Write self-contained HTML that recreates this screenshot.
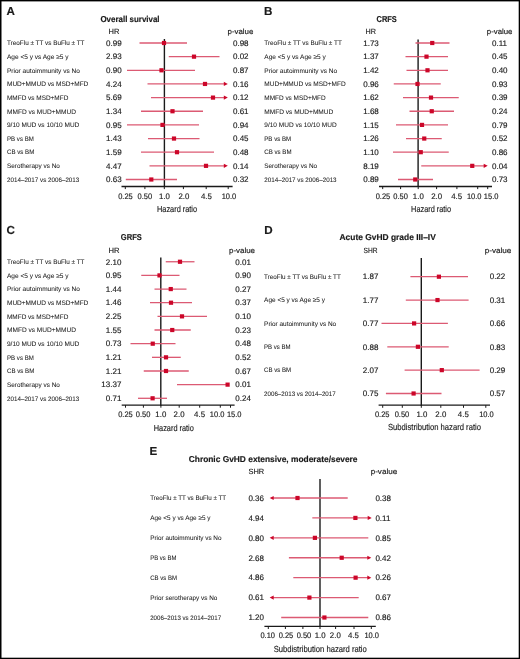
<!DOCTYPE html>
<html><head><meta charset="utf-8"><style>
html,body{margin:0;padding:0;background:#fff;}
body{width:520px;height:659px;overflow:hidden;}
svg{display:block;font-family:"Liberation Sans", sans-serif;text-rendering:geometricPrecision;}
text{filter:grayscale(1);}
text.r{stroke:#1a1a1a;stroke-width:0.15px;}
text.l{stroke:#1a1a1a;stroke-width:0.05px;}
text.b{stroke:#111;stroke-width:0.16px;}
</style></head><body>
<svg width="520" height="659" viewBox="0 0 520 659">
<rect x="0" y="0" width="520" height="659" fill="#fff"/>
<rect x="0" y="0" width="1.5" height="659" fill="#000"/><rect x="0" y="0" width="520" height="1.4" fill="#000"/><rect x="518.7" y="0" width="1.3" height="659" fill="#000"/><rect x="0" y="657.7" width="520" height="1.3" fill="#000"/>
<text class="b" x="6.60" y="15.10" font-size="11.6" font-weight="bold" fill="#1a1a1a">A</text>
<text class="b" x="100.40" y="21.80" font-size="8.5" font-weight="bold" textLength="59.20" lengthAdjust="spacingAndGlyphs" fill="#1a1a1a">Overall survival</text>
<text class="r" x="108.60" y="33.80" font-size="7.6" textLength="10.80" lengthAdjust="spacingAndGlyphs" fill="#1a1a1a">HR</text>
<text class="r" x="227.50" y="33.80" font-size="7.6" textLength="25.90" lengthAdjust="spacingAndGlyphs" fill="#1a1a1a">p-value</text>
<line x1="164.40" y1="39.00" x2="164.40" y2="187.10" stroke="#1a1a1a" stroke-width="1.4"/>
<line x1="121.50" y1="186.50" x2="232.60" y2="186.50" stroke="#1a1a1a" stroke-width="1.3"/>
<line x1="125.30" y1="186.50" x2="125.30" y2="189.10" stroke="#1a1a1a" stroke-width="1.0"/>
<line x1="144.90" y1="186.50" x2="144.90" y2="189.10" stroke="#1a1a1a" stroke-width="1.0"/>
<line x1="164.30" y1="186.50" x2="164.30" y2="189.10" stroke="#1a1a1a" stroke-width="1.0"/>
<line x1="183.40" y1="186.50" x2="183.40" y2="189.10" stroke="#1a1a1a" stroke-width="1.0"/>
<line x1="206.20" y1="186.50" x2="206.20" y2="189.10" stroke="#1a1a1a" stroke-width="1.0"/>
<line x1="228.20" y1="186.50" x2="228.20" y2="189.10" stroke="#1a1a1a" stroke-width="1.0"/>
<text class="r" x="125.50" y="198.60" font-size="8.0" text-anchor="middle" textLength="14.60" lengthAdjust="spacingAndGlyphs" fill="#1a1a1a">0.25</text>
<text class="r" x="144.90" y="198.60" font-size="8.0" text-anchor="middle" textLength="14.60" lengthAdjust="spacingAndGlyphs" fill="#1a1a1a">0.50</text>
<text class="r" x="164.50" y="198.60" font-size="8.0" text-anchor="middle" textLength="10.90" lengthAdjust="spacingAndGlyphs" fill="#1a1a1a">1.0</text>
<text class="r" x="183.85" y="198.60" font-size="8.0" text-anchor="middle" textLength="10.90" lengthAdjust="spacingAndGlyphs" fill="#1a1a1a">2.0</text>
<text class="r" x="206.35" y="198.60" font-size="8.0" text-anchor="middle" textLength="10.90" lengthAdjust="spacingAndGlyphs" fill="#1a1a1a">4.5</text>
<text class="r" x="229.00" y="198.60" font-size="8.0" text-anchor="middle" textLength="14.60" lengthAdjust="spacingAndGlyphs" fill="#1a1a1a">10.0</text>
<text class="r" x="157.00" y="211.60" font-size="8.8" textLength="40.10" lengthAdjust="spacingAndGlyphs" fill="#1a1a1a">Hazard ratio</text>
<text class="l" x="7.00" y="45.25" font-size="6.5" textLength="77.50" lengthAdjust="spacingAndGlyphs" fill="#1a1a1a">TreoFlu ± TT vs BuFlu ± TT</text>
<text class="r" x="121.60" y="45.75" font-size="8.0" text-anchor="end" fill="#1a1a1a">0.99</text>
<text class="r" x="233.00" y="45.75" font-size="8.0" fill="#1a1a1a">0.98</text>
<line x1="139.50" y1="43.00" x2="187.00" y2="43.00" stroke="#dc5a73" stroke-width="1.3"/>
<rect x="161.90" y="40.90" width="4.20" height="4.20" fill="#cc0629"/>
<text class="l" x="7.00" y="58.90" font-size="6.5" textLength="61.50" lengthAdjust="spacingAndGlyphs" fill="#1a1a1a">Age &lt;5 y vs Age ≥5 y</text>
<text class="r" x="121.60" y="59.40" font-size="8.0" text-anchor="end" fill="#1a1a1a">2.93</text>
<text class="r" x="233.00" y="59.40" font-size="8.0" fill="#1a1a1a">0.02</text>
<line x1="168.75" y1="56.65" x2="219.50" y2="56.65" stroke="#dc5a73" stroke-width="1.3"/>
<rect x="191.90" y="54.55" width="4.20" height="4.20" fill="#cc0629"/>
<text class="l" x="7.00" y="72.55" font-size="6.5" textLength="72.80" lengthAdjust="spacingAndGlyphs" fill="#1a1a1a">Prior autoimmunity vs No</text>
<text class="r" x="121.60" y="73.05" font-size="8.0" text-anchor="end" fill="#1a1a1a">0.90</text>
<text class="r" x="233.00" y="73.05" font-size="8.0" fill="#1a1a1a">0.87</text>
<line x1="127.00" y1="70.30" x2="195.00" y2="70.30" stroke="#dc5a73" stroke-width="1.3"/>
<rect x="159.40" y="68.20" width="4.20" height="4.20" fill="#cc0629"/>
<text class="l" x="7.00" y="86.20" font-size="6.5" textLength="81.30" lengthAdjust="spacingAndGlyphs" fill="#1a1a1a">MUD+MMUD vs MSD+MFD</text>
<text class="r" x="121.60" y="86.70" font-size="8.0" text-anchor="end" fill="#1a1a1a">4.24</text>
<text class="r" x="233.00" y="86.70" font-size="8.0" fill="#1a1a1a">0.16</text>
<line x1="147.50" y1="83.95" x2="225.80" y2="83.95" stroke="#dc5a73" stroke-width="1.3"/>
<polygon points="223.80,81.85 227.80,83.95 223.80,86.05" fill="#cc0629"/>
<rect x="202.90" y="81.85" width="4.20" height="4.20" fill="#cc0629"/>
<text class="l" x="7.00" y="99.85" font-size="6.5" textLength="61.30" lengthAdjust="spacingAndGlyphs" fill="#1a1a1a">MMFD vs MSD+MFD</text>
<text class="r" x="121.60" y="100.35" font-size="8.0" text-anchor="end" fill="#1a1a1a">5.69</text>
<text class="r" x="233.00" y="100.35" font-size="8.0" fill="#1a1a1a">0.12</text>
<line x1="151.00" y1="97.60" x2="225.80" y2="97.60" stroke="#dc5a73" stroke-width="1.3"/>
<polygon points="223.80,95.50 227.80,97.60 223.80,99.70" fill="#cc0629"/>
<rect x="210.90" y="95.50" width="4.20" height="4.20" fill="#cc0629"/>
<text class="l" x="7.00" y="113.50" font-size="6.5" textLength="69.00" lengthAdjust="spacingAndGlyphs" fill="#1a1a1a">MMFD vs MUD+MMUD</text>
<text class="r" x="121.60" y="114.00" font-size="8.0" text-anchor="end" fill="#1a1a1a">1.34</text>
<text class="r" x="233.00" y="114.00" font-size="8.0" fill="#1a1a1a">0.61</text>
<line x1="141.00" y1="111.25" x2="203.00" y2="111.25" stroke="#dc5a73" stroke-width="1.3"/>
<rect x="170.40" y="109.15" width="4.20" height="4.20" fill="#cc0629"/>
<text class="l" x="7.00" y="127.15" font-size="6.5" textLength="72.30" lengthAdjust="spacingAndGlyphs" fill="#1a1a1a">9/10 MUD vs 10/10 MUD</text>
<text class="r" x="121.60" y="127.65" font-size="8.0" text-anchor="end" fill="#1a1a1a">0.95</text>
<text class="r" x="233.00" y="127.65" font-size="8.0" fill="#1a1a1a">0.94</text>
<line x1="127.00" y1="124.90" x2="199.00" y2="124.90" stroke="#dc5a73" stroke-width="1.3"/>
<rect x="160.40" y="122.80" width="4.20" height="4.20" fill="#cc0629"/>
<text class="l" x="7.00" y="140.80" font-size="6.5" textLength="26.80" lengthAdjust="spacingAndGlyphs" fill="#1a1a1a">PB vs BM</text>
<text class="r" x="121.60" y="141.30" font-size="8.0" text-anchor="end" fill="#1a1a1a">1.43</text>
<text class="r" x="233.00" y="141.30" font-size="8.0" fill="#1a1a1a">0.45</text>
<line x1="148.00" y1="138.55" x2="199.50" y2="138.55" stroke="#dc5a73" stroke-width="1.3"/>
<rect x="171.90" y="136.45" width="4.20" height="4.20" fill="#cc0629"/>
<text class="l" x="7.00" y="154.45" font-size="6.5" textLength="27.30" lengthAdjust="spacingAndGlyphs" fill="#1a1a1a">CB vs BM</text>
<text class="r" x="121.60" y="154.95" font-size="8.0" text-anchor="end" fill="#1a1a1a">1.59</text>
<text class="r" x="233.00" y="154.95" font-size="8.0" fill="#1a1a1a">0.48</text>
<line x1="141.00" y1="152.20" x2="214.00" y2="152.20" stroke="#dc5a73" stroke-width="1.3"/>
<rect x="174.90" y="150.10" width="4.20" height="4.20" fill="#cc0629"/>
<text class="l" x="7.00" y="168.10" font-size="6.5" textLength="52.80" lengthAdjust="spacingAndGlyphs" fill="#1a1a1a">Serotherapy vs No</text>
<text class="r" x="121.60" y="168.60" font-size="8.0" text-anchor="end" fill="#1a1a1a">4.47</text>
<text class="r" x="233.00" y="168.60" font-size="8.0" fill="#1a1a1a">0.14</text>
<line x1="149.50" y1="165.85" x2="225.80" y2="165.85" stroke="#dc5a73" stroke-width="1.3"/>
<polygon points="223.80,163.75 227.80,165.85 223.80,167.95" fill="#cc0629"/>
<rect x="203.90" y="163.75" width="4.20" height="4.20" fill="#cc0629"/>
<text class="l" x="7.00" y="181.75" font-size="6.5" textLength="72.30" lengthAdjust="spacingAndGlyphs" fill="#1a1a1a">2014–2017 vs 2006–2013</text>
<text class="r" x="121.60" y="182.25" font-size="8.0" text-anchor="end" fill="#1a1a1a">0.63</text>
<text class="r" x="233.00" y="182.25" font-size="8.0" fill="#1a1a1a">0.32</text>
<line x1="125.80" y1="179.50" x2="177.00" y2="179.50" stroke="#dc5a73" stroke-width="1.3"/>
<rect x="149.20" y="177.40" width="4.20" height="4.20" fill="#cc0629"/>
<text class="b" x="264.00" y="15.10" font-size="11.6" font-weight="bold" fill="#1a1a1a">B</text>
<text class="b" x="376.50" y="21.60" font-size="8.5" font-weight="bold" textLength="20.30" lengthAdjust="spacingAndGlyphs" fill="#1a1a1a">CRFS</text>
<text class="r" x="365.60" y="33.80" font-size="7.6" textLength="10.40" lengthAdjust="spacingAndGlyphs" fill="#1a1a1a">HR</text>
<text class="r" x="486.80" y="33.80" font-size="7.6" textLength="25.60" lengthAdjust="spacingAndGlyphs" fill="#1a1a1a">p-value</text>
<line x1="418.10" y1="39.50" x2="418.10" y2="187.10" stroke="#1a1a1a" stroke-width="1.4"/>
<line x1="379.00" y1="186.50" x2="492.00" y2="186.50" stroke="#1a1a1a" stroke-width="1.3"/>
<line x1="382.70" y1="186.50" x2="382.70" y2="189.10" stroke="#1a1a1a" stroke-width="1.0"/>
<line x1="400.60" y1="186.50" x2="400.60" y2="189.10" stroke="#1a1a1a" stroke-width="1.0"/>
<line x1="418.20" y1="186.50" x2="418.20" y2="189.10" stroke="#1a1a1a" stroke-width="1.0"/>
<line x1="436.60" y1="186.50" x2="436.60" y2="189.10" stroke="#1a1a1a" stroke-width="1.0"/>
<line x1="456.90" y1="186.50" x2="456.90" y2="189.10" stroke="#1a1a1a" stroke-width="1.0"/>
<line x1="477.70" y1="186.50" x2="477.70" y2="189.10" stroke="#1a1a1a" stroke-width="1.0"/>
<line x1="487.70" y1="186.50" x2="487.70" y2="189.10" stroke="#1a1a1a" stroke-width="1.0"/>
<text class="r" x="383.00" y="198.50" font-size="8.0" text-anchor="middle" textLength="14.60" lengthAdjust="spacingAndGlyphs" fill="#1a1a1a">0.25</text>
<text class="r" x="400.60" y="198.50" font-size="8.0" text-anchor="middle" textLength="14.60" lengthAdjust="spacingAndGlyphs" fill="#1a1a1a">0.50</text>
<text class="r" x="418.30" y="198.50" font-size="8.0" text-anchor="middle" textLength="10.90" lengthAdjust="spacingAndGlyphs" fill="#1a1a1a">1.0</text>
<text class="r" x="436.65" y="198.50" font-size="8.0" text-anchor="middle" textLength="10.90" lengthAdjust="spacingAndGlyphs" fill="#1a1a1a">2.0</text>
<text class="r" x="456.65" y="198.50" font-size="8.0" text-anchor="middle" textLength="10.90" lengthAdjust="spacingAndGlyphs" fill="#1a1a1a">4.5</text>
<text class="r" x="474.20" y="198.50" font-size="8.0" text-anchor="middle" textLength="14.60" lengthAdjust="spacingAndGlyphs" fill="#1a1a1a">10.0</text>
<text class="r" x="491.15" y="198.50" font-size="8.0" text-anchor="middle" textLength="14.60" lengthAdjust="spacingAndGlyphs" fill="#1a1a1a">15.0</text>
<text class="r" x="411.10" y="211.60" font-size="8.8" textLength="40.00" lengthAdjust="spacingAndGlyphs" fill="#1a1a1a">Hazard ratio</text>
<text class="l" x="264.30" y="45.25" font-size="6.5" textLength="77.50" lengthAdjust="spacingAndGlyphs" fill="#1a1a1a">TreoFlu ± TT vs BuFlu ± TT</text>
<text class="r" x="378.80" y="45.75" font-size="8.0" text-anchor="end" fill="#1a1a1a">1.73</text>
<text class="r" x="492.00" y="45.75" font-size="8.0" fill="#1a1a1a">0.11</text>
<line x1="415.50" y1="43.00" x2="449.50" y2="43.00" stroke="#dc5a73" stroke-width="1.3"/>
<rect x="430.15" y="40.90" width="4.20" height="4.20" fill="#cc0629"/>
<text class="l" x="264.30" y="58.90" font-size="6.5" textLength="61.50" lengthAdjust="spacingAndGlyphs" fill="#1a1a1a">Age &lt;5 y vs Age ≥5 y</text>
<text class="r" x="378.80" y="59.40" font-size="8.0" text-anchor="end" fill="#1a1a1a">1.37</text>
<text class="r" x="492.00" y="59.40" font-size="8.0" fill="#1a1a1a">0.45</text>
<line x1="405.50" y1="56.65" x2="448.00" y2="56.65" stroke="#dc5a73" stroke-width="1.3"/>
<rect x="424.40" y="54.55" width="4.20" height="4.20" fill="#cc0629"/>
<text class="l" x="264.30" y="72.55" font-size="6.5" textLength="72.80" lengthAdjust="spacingAndGlyphs" fill="#1a1a1a">Prior autoimmunity vs No</text>
<text class="r" x="378.80" y="73.05" font-size="8.0" text-anchor="end" fill="#1a1a1a">1.42</text>
<text class="r" x="492.00" y="73.05" font-size="8.0" fill="#1a1a1a">0.40</text>
<line x1="406.50" y1="70.30" x2="448.00" y2="70.30" stroke="#dc5a73" stroke-width="1.3"/>
<rect x="425.40" y="68.20" width="4.20" height="4.20" fill="#cc0629"/>
<text class="l" x="264.30" y="86.20" font-size="6.5" textLength="81.30" lengthAdjust="spacingAndGlyphs" fill="#1a1a1a">MUD+MMUD vs MSD+MFD</text>
<text class="r" x="378.80" y="86.70" font-size="8.0" text-anchor="end" fill="#1a1a1a">0.96</text>
<text class="r" x="492.00" y="86.70" font-size="8.0" fill="#1a1a1a">0.93</text>
<line x1="393.75" y1="83.95" x2="440.75" y2="83.95" stroke="#dc5a73" stroke-width="1.3"/>
<rect x="415.40" y="81.85" width="4.20" height="4.20" fill="#cc0629"/>
<text class="l" x="264.30" y="99.85" font-size="6.5" textLength="61.30" lengthAdjust="spacingAndGlyphs" fill="#1a1a1a">MMFD vs MSD+MFD</text>
<text class="r" x="378.80" y="100.35" font-size="8.0" text-anchor="end" fill="#1a1a1a">1.62</text>
<text class="r" x="492.00" y="100.35" font-size="8.0" fill="#1a1a1a">0.39</text>
<line x1="403.00" y1="97.60" x2="458.75" y2="97.60" stroke="#dc5a73" stroke-width="1.3"/>
<rect x="428.90" y="95.50" width="4.20" height="4.20" fill="#cc0629"/>
<text class="l" x="264.30" y="113.50" font-size="6.5" textLength="69.00" lengthAdjust="spacingAndGlyphs" fill="#1a1a1a">MMFD vs MUD+MMUD</text>
<text class="r" x="378.80" y="114.00" font-size="8.0" text-anchor="end" fill="#1a1a1a">1.68</text>
<text class="r" x="492.00" y="114.00" font-size="8.0" fill="#1a1a1a">0.24</text>
<line x1="409.50" y1="111.25" x2="454.00" y2="111.25" stroke="#dc5a73" stroke-width="1.3"/>
<rect x="429.65" y="109.15" width="4.20" height="4.20" fill="#cc0629"/>
<text class="l" x="264.30" y="127.15" font-size="6.5" textLength="72.30" lengthAdjust="spacingAndGlyphs" fill="#1a1a1a">9/10 MUD vs 10/10 MUD</text>
<text class="r" x="378.80" y="127.65" font-size="8.0" text-anchor="end" fill="#1a1a1a">1.15</text>
<text class="r" x="492.00" y="127.65" font-size="8.0" fill="#1a1a1a">0.79</text>
<line x1="396.00" y1="124.90" x2="448.00" y2="124.90" stroke="#dc5a73" stroke-width="1.3"/>
<rect x="419.90" y="122.80" width="4.20" height="4.20" fill="#cc0629"/>
<text class="l" x="264.30" y="140.80" font-size="6.5" textLength="26.80" lengthAdjust="spacingAndGlyphs" fill="#1a1a1a">PB vs BM</text>
<text class="r" x="378.80" y="141.30" font-size="8.0" text-anchor="end" fill="#1a1a1a">1.26</text>
<text class="r" x="492.00" y="141.30" font-size="8.0" fill="#1a1a1a">0.52</text>
<line x1="406.00" y1="138.55" x2="441.75" y2="138.55" stroke="#dc5a73" stroke-width="1.3"/>
<rect x="422.15" y="136.45" width="4.20" height="4.20" fill="#cc0629"/>
<text class="l" x="264.30" y="154.45" font-size="6.5" textLength="27.30" lengthAdjust="spacingAndGlyphs" fill="#1a1a1a">CB vs BM</text>
<text class="r" x="378.80" y="154.95" font-size="8.0" text-anchor="end" fill="#1a1a1a">1.10</text>
<text class="r" x="492.00" y="154.95" font-size="8.0" fill="#1a1a1a">0.86</text>
<line x1="393.00" y1="152.20" x2="448.75" y2="152.20" stroke="#dc5a73" stroke-width="1.3"/>
<rect x="418.65" y="150.10" width="4.20" height="4.20" fill="#cc0629"/>
<text class="l" x="264.30" y="168.10" font-size="6.5" textLength="52.80" lengthAdjust="spacingAndGlyphs" fill="#1a1a1a">Serotherapy vs No</text>
<text class="r" x="378.80" y="168.60" font-size="8.0" text-anchor="end" fill="#1a1a1a">8.19</text>
<text class="r" x="492.00" y="168.60" font-size="8.0" fill="#1a1a1a">0.04</text>
<line x1="421.25" y1="165.85" x2="485.70" y2="165.85" stroke="#dc5a73" stroke-width="1.3"/>
<polygon points="483.70,163.75 487.70,165.85 483.70,167.95" fill="#cc0629"/>
<rect x="470.15" y="163.75" width="4.20" height="4.20" fill="#cc0629"/>
<text class="l" x="264.30" y="181.75" font-size="6.5" textLength="72.30" lengthAdjust="spacingAndGlyphs" fill="#1a1a1a">2014–2017 vs 2006–2013</text>
<text class="r" x="378.80" y="182.25" font-size="8.0" text-anchor="end" fill="#1a1a1a">0.89</text>
<text class="r" x="492.00" y="182.25" font-size="8.0" fill="#1a1a1a">0.73</text>
<line x1="398.00" y1="179.50" x2="433.00" y2="179.50" stroke="#dc5a73" stroke-width="1.3"/>
<rect x="413.15" y="177.40" width="4.20" height="4.20" fill="#cc0629"/>
<text class="b" x="6.60" y="233.90" font-size="11.6" font-weight="bold" fill="#1a1a1a">C</text>
<text class="b" x="120.80" y="240.40" font-size="8.5" font-weight="bold" textLength="21.00" lengthAdjust="spacingAndGlyphs" fill="#1a1a1a">GRFS</text>
<text class="r" x="108.40" y="252.80" font-size="7.6" textLength="11.00" lengthAdjust="spacingAndGlyphs" fill="#1a1a1a">HR</text>
<text class="r" x="229.00" y="252.80" font-size="7.6" textLength="26.00" lengthAdjust="spacingAndGlyphs" fill="#1a1a1a">p-value</text>
<line x1="160.80" y1="257.60" x2="160.80" y2="405.70" stroke="#1a1a1a" stroke-width="1.4"/>
<line x1="121.70" y1="405.10" x2="234.60" y2="405.10" stroke="#1a1a1a" stroke-width="1.3"/>
<line x1="125.50" y1="405.10" x2="125.50" y2="407.70" stroke="#1a1a1a" stroke-width="1.0"/>
<line x1="143.40" y1="405.10" x2="143.40" y2="407.70" stroke="#1a1a1a" stroke-width="1.0"/>
<line x1="160.90" y1="405.10" x2="160.90" y2="407.70" stroke="#1a1a1a" stroke-width="1.0"/>
<line x1="179.20" y1="405.10" x2="179.20" y2="407.70" stroke="#1a1a1a" stroke-width="1.0"/>
<line x1="199.70" y1="405.10" x2="199.70" y2="407.70" stroke="#1a1a1a" stroke-width="1.0"/>
<line x1="220.30" y1="405.10" x2="220.30" y2="407.70" stroke="#1a1a1a" stroke-width="1.0"/>
<line x1="230.50" y1="405.10" x2="230.50" y2="407.70" stroke="#1a1a1a" stroke-width="1.0"/>
<text class="r" x="125.50" y="417.10" font-size="8.0" text-anchor="middle" textLength="14.60" lengthAdjust="spacingAndGlyphs" fill="#1a1a1a">0.25</text>
<text class="r" x="143.10" y="417.10" font-size="8.0" text-anchor="middle" textLength="14.60" lengthAdjust="spacingAndGlyphs" fill="#1a1a1a">0.50</text>
<text class="r" x="160.80" y="417.10" font-size="8.0" text-anchor="middle" textLength="10.90" lengthAdjust="spacingAndGlyphs" fill="#1a1a1a">1.0</text>
<text class="r" x="179.05" y="417.10" font-size="8.0" text-anchor="middle" textLength="10.90" lengthAdjust="spacingAndGlyphs" fill="#1a1a1a">2.0</text>
<text class="r" x="199.55" y="417.10" font-size="8.0" text-anchor="middle" textLength="10.90" lengthAdjust="spacingAndGlyphs" fill="#1a1a1a">4.5</text>
<text class="r" x="217.15" y="417.10" font-size="8.0" text-anchor="middle" textLength="14.60" lengthAdjust="spacingAndGlyphs" fill="#1a1a1a">10.0</text>
<text class="r" x="234.20" y="417.10" font-size="8.0" text-anchor="middle" textLength="14.60" lengthAdjust="spacingAndGlyphs" fill="#1a1a1a">15.0</text>
<text class="r" x="153.80" y="430.60" font-size="8.8" textLength="40.00" lengthAdjust="spacingAndGlyphs" fill="#1a1a1a">Hazard ratio</text>
<text class="l" x="7.00" y="264.00" font-size="6.5" textLength="77.50" lengthAdjust="spacingAndGlyphs" fill="#1a1a1a">TreoFlu ± TT vs BuFlu ± TT</text>
<text class="r" x="121.40" y="264.50" font-size="8.0" text-anchor="end" fill="#1a1a1a">2.10</text>
<text class="r" x="235.30" y="264.50" font-size="8.0" fill="#1a1a1a">0.01</text>
<line x1="165.75" y1="261.75" x2="194.50" y2="261.75" stroke="#dc5a73" stroke-width="1.3"/>
<rect x="177.90" y="259.65" width="4.20" height="4.20" fill="#cc0629"/>
<text class="l" x="7.00" y="277.65" font-size="6.5" textLength="61.50" lengthAdjust="spacingAndGlyphs" fill="#1a1a1a">Age &lt;5 y vs Age ≥5 y</text>
<text class="r" x="121.40" y="278.15" font-size="8.0" text-anchor="end" fill="#1a1a1a">0.95</text>
<text class="r" x="235.30" y="278.15" font-size="8.0" fill="#1a1a1a">0.90</text>
<line x1="141.25" y1="275.40" x2="179.50" y2="275.40" stroke="#dc5a73" stroke-width="1.3"/>
<rect x="157.40" y="273.30" width="4.20" height="4.20" fill="#cc0629"/>
<text class="l" x="7.00" y="291.31" font-size="6.5" textLength="72.80" lengthAdjust="spacingAndGlyphs" fill="#1a1a1a">Prior autoimmunity vs No</text>
<text class="r" x="121.40" y="291.81" font-size="8.0" text-anchor="end" fill="#1a1a1a">1.44</text>
<text class="r" x="235.30" y="291.81" font-size="8.0" fill="#1a1a1a">0.27</text>
<line x1="154.50" y1="289.06" x2="186.50" y2="289.06" stroke="#dc5a73" stroke-width="1.3"/>
<rect x="168.65" y="286.96" width="4.20" height="4.20" fill="#cc0629"/>
<text class="l" x="7.00" y="304.96" font-size="6.5" textLength="81.30" lengthAdjust="spacingAndGlyphs" fill="#1a1a1a">MUD+MMUD vs MSD+MFD</text>
<text class="r" x="121.40" y="305.46" font-size="8.0" text-anchor="end" fill="#1a1a1a">1.46</text>
<text class="r" x="235.30" y="305.46" font-size="8.0" fill="#1a1a1a">0.37</text>
<line x1="150.00" y1="302.71" x2="192.00" y2="302.71" stroke="#dc5a73" stroke-width="1.3"/>
<rect x="168.90" y="300.61" width="4.20" height="4.20" fill="#cc0629"/>
<text class="l" x="7.00" y="318.62" font-size="6.5" textLength="61.30" lengthAdjust="spacingAndGlyphs" fill="#1a1a1a">MMFD vs MSD+MFD</text>
<text class="r" x="121.40" y="319.12" font-size="8.0" text-anchor="end" fill="#1a1a1a">2.25</text>
<text class="r" x="235.30" y="319.12" font-size="8.0" fill="#1a1a1a">0.10</text>
<line x1="157.50" y1="316.37" x2="207.00" y2="316.37" stroke="#dc5a73" stroke-width="1.3"/>
<rect x="179.90" y="314.27" width="4.20" height="4.20" fill="#cc0629"/>
<text class="l" x="7.00" y="332.27" font-size="6.5" textLength="69.00" lengthAdjust="spacingAndGlyphs" fill="#1a1a1a">MMFD vs MUD+MMUD</text>
<text class="r" x="121.40" y="332.77" font-size="8.0" text-anchor="end" fill="#1a1a1a">1.55</text>
<text class="r" x="235.30" y="332.77" font-size="8.0" fill="#1a1a1a">0.23</text>
<line x1="154.50" y1="330.02" x2="190.75" y2="330.02" stroke="#dc5a73" stroke-width="1.3"/>
<rect x="170.15" y="327.92" width="4.20" height="4.20" fill="#cc0629"/>
<text class="l" x="7.00" y="345.93" font-size="6.5" textLength="72.30" lengthAdjust="spacingAndGlyphs" fill="#1a1a1a">9/10 MUD vs 10/10 MUD</text>
<text class="r" x="121.40" y="346.43" font-size="8.0" text-anchor="end" fill="#1a1a1a">0.73</text>
<text class="r" x="235.30" y="346.43" font-size="8.0" fill="#1a1a1a">0.48</text>
<line x1="130.50" y1="343.68" x2="175.50" y2="343.68" stroke="#dc5a73" stroke-width="1.3"/>
<rect x="150.65" y="341.58" width="4.20" height="4.20" fill="#cc0629"/>
<text class="l" x="7.00" y="359.58" font-size="6.5" textLength="26.80" lengthAdjust="spacingAndGlyphs" fill="#1a1a1a">PB vs BM</text>
<text class="r" x="121.40" y="360.08" font-size="8.0" text-anchor="end" fill="#1a1a1a">1.21</text>
<text class="r" x="235.30" y="360.08" font-size="8.0" fill="#1a1a1a">0.52</text>
<line x1="152.00" y1="357.33" x2="180.75" y2="357.33" stroke="#dc5a73" stroke-width="1.3"/>
<rect x="163.90" y="355.23" width="4.20" height="4.20" fill="#cc0629"/>
<text class="l" x="7.00" y="373.24" font-size="6.5" textLength="27.30" lengthAdjust="spacingAndGlyphs" fill="#1a1a1a">CB vs BM</text>
<text class="r" x="121.40" y="373.74" font-size="8.0" text-anchor="end" fill="#1a1a1a">1.21</text>
<text class="r" x="235.30" y="373.74" font-size="8.0" fill="#1a1a1a">0.67</text>
<line x1="143.75" y1="370.99" x2="188.75" y2="370.99" stroke="#dc5a73" stroke-width="1.3"/>
<rect x="163.90" y="368.89" width="4.20" height="4.20" fill="#cc0629"/>
<text class="l" x="7.00" y="386.89" font-size="6.5" textLength="52.80" lengthAdjust="spacingAndGlyphs" fill="#1a1a1a">Serotherapy vs No</text>
<text class="r" x="121.40" y="387.39" font-size="8.0" text-anchor="end" fill="#1a1a1a">13.37</text>
<text class="r" x="235.30" y="387.39" font-size="8.0" fill="#1a1a1a">0.01</text>
<line x1="177.00" y1="384.64" x2="227.60" y2="384.64" stroke="#dc5a73" stroke-width="1.3"/>
<rect x="225.50" y="382.54" width="4.20" height="4.20" fill="#cc0629"/>
<text class="l" x="7.00" y="400.55" font-size="6.5" textLength="72.30" lengthAdjust="spacingAndGlyphs" fill="#1a1a1a">2014–2017 vs 2006–2013</text>
<text class="r" x="121.40" y="401.05" font-size="8.0" text-anchor="end" fill="#1a1a1a">0.71</text>
<text class="r" x="235.30" y="401.05" font-size="8.0" fill="#1a1a1a">0.24</text>
<line x1="138.00" y1="398.30" x2="167.00" y2="398.30" stroke="#dc5a73" stroke-width="1.3"/>
<rect x="150.50" y="396.20" width="4.20" height="4.20" fill="#cc0629"/>
<text class="b" x="264.20" y="234.20" font-size="11.6" font-weight="bold" fill="#1a1a1a">D</text>
<text class="b" x="339.50" y="240.20" font-size="8.5" font-weight="bold" textLength="96.30" lengthAdjust="spacingAndGlyphs" fill="#1a1a1a">Acute GvHD grade III–IV</text>
<text class="r" x="363.60" y="252.90" font-size="7.6" textLength="14.00" lengthAdjust="spacingAndGlyphs" fill="#1a1a1a">SHR</text>
<text class="r" x="484.70" y="252.90" font-size="7.6" textLength="26.70" lengthAdjust="spacingAndGlyphs" fill="#1a1a1a">p-value</text>
<line x1="421.30" y1="258.00" x2="421.30" y2="405.80" stroke="#1a1a1a" stroke-width="1.4"/>
<line x1="378.60" y1="405.20" x2="490.00" y2="405.20" stroke="#1a1a1a" stroke-width="1.3"/>
<line x1="382.70" y1="405.20" x2="382.70" y2="407.80" stroke="#1a1a1a" stroke-width="1.0"/>
<line x1="402.30" y1="405.20" x2="402.30" y2="407.80" stroke="#1a1a1a" stroke-width="1.0"/>
<line x1="421.30" y1="405.20" x2="421.30" y2="407.80" stroke="#1a1a1a" stroke-width="1.0"/>
<line x1="440.80" y1="405.20" x2="440.80" y2="407.80" stroke="#1a1a1a" stroke-width="1.0"/>
<line x1="463.50" y1="405.20" x2="463.50" y2="407.80" stroke="#1a1a1a" stroke-width="1.0"/>
<line x1="485.80" y1="405.20" x2="485.80" y2="407.80" stroke="#1a1a1a" stroke-width="1.0"/>
<text class="r" x="382.25" y="417.00" font-size="8.0" text-anchor="middle" textLength="14.60" lengthAdjust="spacingAndGlyphs" fill="#1a1a1a">0.25</text>
<text class="r" x="402.00" y="417.00" font-size="8.0" text-anchor="middle" textLength="14.60" lengthAdjust="spacingAndGlyphs" fill="#1a1a1a">0.50</text>
<text class="r" x="421.90" y="417.00" font-size="8.0" text-anchor="middle" textLength="10.90" lengthAdjust="spacingAndGlyphs" fill="#1a1a1a">1.0</text>
<text class="r" x="440.80" y="417.00" font-size="8.0" text-anchor="middle" textLength="10.90" lengthAdjust="spacingAndGlyphs" fill="#1a1a1a">2.0</text>
<text class="r" x="463.30" y="417.00" font-size="8.0" text-anchor="middle" textLength="10.90" lengthAdjust="spacingAndGlyphs" fill="#1a1a1a">4.5</text>
<text class="r" x="486.50" y="417.00" font-size="8.0" text-anchor="middle" textLength="14.60" lengthAdjust="spacingAndGlyphs" fill="#1a1a1a">10.0</text>
<text class="r" x="387.90" y="430.40" font-size="8.8" textLength="93.10" lengthAdjust="spacingAndGlyphs" fill="#1a1a1a">Subdistribution hazard ratio</text>
<text class="l" x="264.10" y="278.95" font-size="6.5" textLength="76.72" lengthAdjust="spacingAndGlyphs" fill="#1a1a1a">TreoFlu ± TT vs BuFlu ± TT</text>
<text class="r" x="378.40" y="279.45" font-size="8.0" text-anchor="end" fill="#1a1a1a">1.87</text>
<text class="r" x="489.70" y="279.45" font-size="8.0" fill="#1a1a1a">0.22</text>
<line x1="410.40" y1="276.70" x2="468.00" y2="276.70" stroke="#dc5a73" stroke-width="1.3"/>
<rect x="436.80" y="274.60" width="4.20" height="4.20" fill="#cc0629"/>
<text class="l" x="264.10" y="302.31" font-size="6.5" textLength="60.88" lengthAdjust="spacingAndGlyphs" fill="#1a1a1a">Age &lt;5 y vs Age ≥5 y</text>
<text class="r" x="378.40" y="302.81" font-size="8.0" text-anchor="end" fill="#1a1a1a">1.77</text>
<text class="r" x="489.70" y="302.81" font-size="8.0" fill="#1a1a1a">0.31</text>
<line x1="405.80" y1="300.06" x2="468.60" y2="300.06" stroke="#dc5a73" stroke-width="1.3"/>
<rect x="435.40" y="297.96" width="4.20" height="4.20" fill="#cc0629"/>
<text class="l" x="264.10" y="325.67" font-size="6.5" textLength="72.07" lengthAdjust="spacingAndGlyphs" fill="#1a1a1a">Prior autoimmunity vs No</text>
<text class="r" x="378.40" y="326.17" font-size="8.0" text-anchor="end" fill="#1a1a1a">0.77</text>
<text class="r" x="489.70" y="326.17" font-size="8.0" fill="#1a1a1a">0.66</text>
<line x1="381.50" y1="323.42" x2="447.90" y2="323.42" stroke="#dc5a73" stroke-width="1.3"/>
<rect x="412.00" y="321.32" width="4.20" height="4.20" fill="#cc0629"/>
<text class="l" x="264.10" y="349.03" font-size="6.5" textLength="26.53" lengthAdjust="spacingAndGlyphs" fill="#1a1a1a">PB vs BM</text>
<text class="r" x="378.40" y="349.53" font-size="8.0" text-anchor="end" fill="#1a1a1a">0.88</text>
<text class="r" x="489.70" y="349.53" font-size="8.0" fill="#1a1a1a">0.83</text>
<line x1="387.30" y1="346.78" x2="448.70" y2="346.78" stroke="#dc5a73" stroke-width="1.3"/>
<rect x="415.80" y="344.68" width="4.20" height="4.20" fill="#cc0629"/>
<text class="l" x="264.10" y="372.39" font-size="6.5" textLength="27.03" lengthAdjust="spacingAndGlyphs" fill="#1a1a1a">CB vs BM</text>
<text class="r" x="378.40" y="372.89" font-size="8.0" text-anchor="end" fill="#1a1a1a">2.07</text>
<text class="r" x="489.70" y="372.89" font-size="8.0" fill="#1a1a1a">0.29</text>
<line x1="404.60" y1="370.14" x2="479.60" y2="370.14" stroke="#dc5a73" stroke-width="1.3"/>
<rect x="439.70" y="368.04" width="4.20" height="4.20" fill="#cc0629"/>
<text class="l" x="264.10" y="395.75" font-size="6.5" textLength="71.58" lengthAdjust="spacingAndGlyphs" fill="#1a1a1a">2006–2013 vs 2014–2017</text>
<text class="r" x="378.40" y="396.25" font-size="8.0" text-anchor="end" fill="#1a1a1a">0.75</text>
<text class="r" x="489.70" y="396.25" font-size="8.0" fill="#1a1a1a">0.57</text>
<line x1="385.90" y1="393.50" x2="441.50" y2="393.50" stroke="#dc5a73" stroke-width="1.3"/>
<rect x="411.50" y="391.40" width="4.20" height="4.20" fill="#cc0629"/>
<text class="b" x="149.60" y="455.20" font-size="11.6" font-weight="bold" fill="#1a1a1a">E</text>
<text class="b" x="188.75" y="461.70" font-size="8.5" font-weight="bold" textLength="168.75" lengthAdjust="spacingAndGlyphs" fill="#1a1a1a">Chronic GvHD extensive, moderate/severe</text>
<text class="r" x="248.50" y="473.50" font-size="7.6" textLength="15.70" lengthAdjust="spacingAndGlyphs" fill="#1a1a1a">SHR</text>
<text class="r" x="370.70" y="473.50" font-size="7.6" textLength="26.50" lengthAdjust="spacingAndGlyphs" fill="#1a1a1a">p-value</text>
<line x1="320.00" y1="479.00" x2="320.00" y2="627.00" stroke="#1a1a1a" stroke-width="1.4"/>
<line x1="264.40" y1="626.40" x2="375.80" y2="626.40" stroke="#1a1a1a" stroke-width="1.3"/>
<line x1="268.30" y1="626.40" x2="268.30" y2="629.00" stroke="#1a1a1a" stroke-width="1.0"/>
<line x1="285.40" y1="626.40" x2="285.40" y2="629.00" stroke="#1a1a1a" stroke-width="1.0"/>
<line x1="302.90" y1="626.40" x2="302.90" y2="629.00" stroke="#1a1a1a" stroke-width="1.0"/>
<line x1="320.00" y1="626.40" x2="320.00" y2="629.00" stroke="#1a1a1a" stroke-width="1.0"/>
<line x1="335.60" y1="626.40" x2="335.60" y2="629.00" stroke="#1a1a1a" stroke-width="1.0"/>
<line x1="354.00" y1="626.40" x2="354.00" y2="629.00" stroke="#1a1a1a" stroke-width="1.0"/>
<line x1="371.30" y1="626.40" x2="371.30" y2="629.00" stroke="#1a1a1a" stroke-width="1.0"/>
<text class="r" x="267.70" y="638.40" font-size="8.0" text-anchor="middle" textLength="14.60" lengthAdjust="spacingAndGlyphs" fill="#1a1a1a">0.10</text>
<text class="r" x="286.00" y="638.40" font-size="8.0" text-anchor="middle" textLength="14.60" lengthAdjust="spacingAndGlyphs" fill="#1a1a1a">0.25</text>
<text class="r" x="304.00" y="638.40" font-size="8.0" text-anchor="middle" textLength="14.60" lengthAdjust="spacingAndGlyphs" fill="#1a1a1a">0.50</text>
<text class="r" x="320.10" y="638.40" font-size="8.0" text-anchor="middle" textLength="10.90" lengthAdjust="spacingAndGlyphs" fill="#1a1a1a">1.0</text>
<text class="r" x="335.30" y="638.40" font-size="8.0" text-anchor="middle" textLength="10.90" lengthAdjust="spacingAndGlyphs" fill="#1a1a1a">2.0</text>
<text class="r" x="353.50" y="638.40" font-size="8.0" text-anchor="middle" textLength="10.90" lengthAdjust="spacingAndGlyphs" fill="#1a1a1a">4.5</text>
<text class="r" x="371.70" y="638.40" font-size="8.0" text-anchor="middle" textLength="14.60" lengthAdjust="spacingAndGlyphs" fill="#1a1a1a">10.0</text>
<text class="r" x="273.70" y="651.90" font-size="8.8" textLength="93.10" lengthAdjust="spacingAndGlyphs" fill="#1a1a1a">Subdistribution hazard ratio</text>
<text class="l" x="150.20" y="500.25" font-size="6.5" textLength="75.95" lengthAdjust="spacingAndGlyphs" fill="#1a1a1a">TreoFlu ± TT vs BuFlu ± TT</text>
<text class="r" x="264.00" y="500.75" font-size="8.0" text-anchor="end" fill="#1a1a1a">0.36</text>
<text class="r" x="375.40" y="500.75" font-size="8.0" fill="#1a1a1a">0.38</text>
<line x1="271.70" y1="498.00" x2="347.70" y2="498.00" stroke="#dc5a73" stroke-width="1.3"/>
<polygon points="273.70,495.90 269.70,498.00 273.70,500.10" fill="#cc0629"/>
<rect x="295.40" y="495.90" width="4.20" height="4.20" fill="#cc0629"/>
<text class="l" x="150.20" y="520.17" font-size="6.5" textLength="60.27" lengthAdjust="spacingAndGlyphs" fill="#1a1a1a">Age &lt;5 y vs Age ≥5 y</text>
<text class="r" x="264.00" y="520.67" font-size="8.0" text-anchor="end" fill="#1a1a1a">4.94</text>
<text class="r" x="375.40" y="520.67" font-size="8.0" fill="#1a1a1a">0.11</text>
<line x1="312.30" y1="517.92" x2="369.70" y2="517.92" stroke="#dc5a73" stroke-width="1.3"/>
<polygon points="367.70,515.82 371.70,517.92 367.70,520.02" fill="#cc0629"/>
<rect x="353.30" y="515.82" width="4.20" height="4.20" fill="#cc0629"/>
<text class="l" x="150.20" y="540.09" font-size="6.5" textLength="71.34" lengthAdjust="spacingAndGlyphs" fill="#1a1a1a">Prior autoimmunity vs No</text>
<text class="r" x="264.00" y="540.59" font-size="8.0" text-anchor="end" fill="#1a1a1a">0.80</text>
<text class="r" x="375.40" y="540.59" font-size="8.0" fill="#1a1a1a">0.85</text>
<line x1="271.70" y1="537.84" x2="368.30" y2="537.84" stroke="#dc5a73" stroke-width="1.3"/>
<polygon points="273.70,535.74 269.70,537.84 273.70,539.94" fill="#cc0629"/>
<rect x="312.80" y="535.74" width="4.20" height="4.20" fill="#cc0629"/>
<text class="l" x="150.20" y="560.01" font-size="6.5" textLength="26.26" lengthAdjust="spacingAndGlyphs" fill="#1a1a1a">PB vs BM</text>
<text class="r" x="264.00" y="560.51" font-size="8.0" text-anchor="end" fill="#1a1a1a">2.68</text>
<text class="r" x="375.40" y="560.51" font-size="8.0" fill="#1a1a1a">0.42</text>
<line x1="288.90" y1="557.76" x2="369.30" y2="557.76" stroke="#dc5a73" stroke-width="1.3"/>
<polygon points="367.30,555.66 371.30,557.76 367.30,559.86" fill="#cc0629"/>
<rect x="339.60" y="555.66" width="4.20" height="4.20" fill="#cc0629"/>
<text class="l" x="150.20" y="579.93" font-size="6.5" textLength="26.75" lengthAdjust="spacingAndGlyphs" fill="#1a1a1a">CB vs BM</text>
<text class="r" x="264.00" y="580.43" font-size="8.0" text-anchor="end" fill="#1a1a1a">4.86</text>
<text class="r" x="375.40" y="580.43" font-size="8.0" fill="#1a1a1a">0.26</text>
<line x1="293.30" y1="577.68" x2="369.30" y2="577.68" stroke="#dc5a73" stroke-width="1.3"/>
<polygon points="367.30,575.58 371.30,577.68 367.30,579.78" fill="#cc0629"/>
<rect x="353.50" y="575.58" width="4.20" height="4.20" fill="#cc0629"/>
<text class="l" x="150.20" y="599.85" font-size="6.5" textLength="67.23" lengthAdjust="spacingAndGlyphs" fill="#1a1a1a">Prior serotherapy vs No</text>
<text class="r" x="264.00" y="600.35" font-size="8.0" text-anchor="end" fill="#1a1a1a">0.61</text>
<text class="r" x="375.40" y="600.35" font-size="8.0" fill="#1a1a1a">0.67</text>
<line x1="271.70" y1="597.60" x2="358.70" y2="597.60" stroke="#dc5a73" stroke-width="1.3"/>
<polygon points="273.70,595.50 269.70,597.60 273.70,599.70" fill="#cc0629"/>
<rect x="307.30" y="595.50" width="4.20" height="4.20" fill="#cc0629"/>
<text class="l" x="150.20" y="619.77" font-size="6.5" textLength="70.85" lengthAdjust="spacingAndGlyphs" fill="#1a1a1a">2006–2013 vs 2014–2017</text>
<text class="r" x="264.00" y="620.27" font-size="8.0" text-anchor="end" fill="#1a1a1a">1.20</text>
<text class="r" x="375.40" y="620.27" font-size="8.0" fill="#1a1a1a">0.86</text>
<line x1="281.20" y1="617.52" x2="368.30" y2="617.52" stroke="#dc5a73" stroke-width="1.3"/>
<rect x="322.30" y="615.42" width="4.20" height="4.20" fill="#cc0629"/>
</svg>
</body></html>
